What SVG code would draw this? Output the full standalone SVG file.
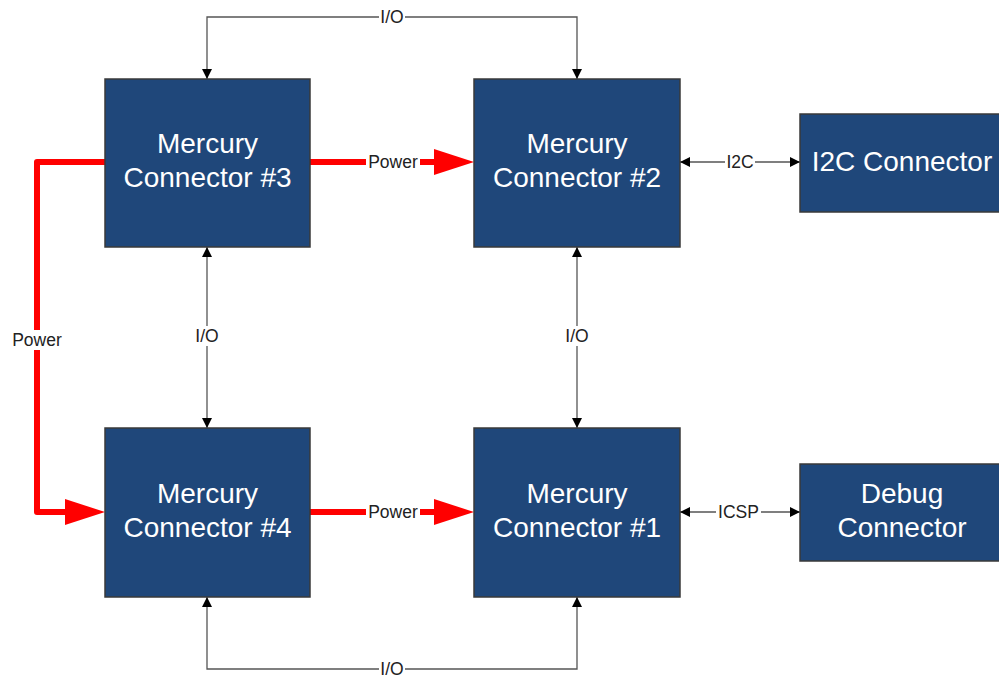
<svg xmlns="http://www.w3.org/2000/svg" width="999" height="678" viewBox="0 0 999 678">
<defs>
<style>
.box{fill:#1F477A;stroke:#3a3a3a;stroke-width:1.5}
.nt{fill:#ffffff;font-family:"Liberation Sans",Arial,sans-serif;font-size:28px;text-anchor:middle}
.io{fill:none;stroke:#555;stroke-width:1.3;marker-start:url(#ah);marker-end:url(#ah)}
.pw{fill:none;stroke:#ff0000;stroke-width:6;stroke-linejoin:round;stroke-linecap:round;marker-end:url(#rh)}
.lb{fill:#222;font-family:"Liberation Sans",Arial,sans-serif;font-size:17.5px;text-anchor:middle}
.bg{fill:#ffffff}
</style>
<marker id="ah" viewBox="0 0 10 10" refX="10" refY="5" markerWidth="10" markerHeight="10" markerUnits="userSpaceOnUse" orient="auto-start-reverse"><path d="M0,0 L10,5 L0,10 z" fill="#000"/></marker>
<marker id="rh" viewBox="0 0 40 26" refX="6" refY="13" markerWidth="40" markerHeight="26" markerUnits="userSpaceOnUse" orient="auto"><path d="M0,0 L40,13 L0,26 z" fill="#ff0000"/></marker>
</defs>
<rect width="999" height="678" fill="#ffffff"/>
<g id="connectors">
<path class="io" d="M207,79 V17 H577 V79"/>
<path class="io" d="M207,597 V669 H577 V597"/>
<path class="io" d="M207,247 V428"/>
<path class="io" d="M577,247 V428"/>
<path class="io" d="M680,162 H800"/>
<path class="io" d="M680,512 H800"/>
<path class="pw" d="M310,162 H440"/>
<path class="pw" d="M310,512 H440"/>
<path class="pw" d="M105,162 H37 V512 H71"/>
<rect class="bg" x="379" y="7" width="26" height="20"/><text class="lb" x="392" y="23">I/O</text>
<rect class="bg" x="379" y="659" width="26" height="20"/><text class="lb" x="392" y="675">I/O</text>
<rect class="bg" x="194" y="326" width="26" height="20"/><text class="lb" x="207" y="342">I/O</text>
<rect class="bg" x="564" y="326" width="26" height="20"/><text class="lb" x="577" y="342">I/O</text>
<rect class="bg" x="725" y="152" width="30" height="20"/><text class="lb" x="740" y="168">I2C</text>
<rect class="bg" x="716" y="502" width="45" height="20"/><text class="lb" x="738.5" y="518">ICSP</text>
<rect class="bg" x="366" y="152" width="54" height="20"/><text class="lb" x="393" y="168">Power</text>
<rect class="bg" x="366" y="502" width="54" height="20"/><text class="lb" x="393" y="518">Power</text>
<rect class="bg" x="9" y="330" width="56" height="20"/><text class="lb" x="37" y="346">Power</text>
</g>
<g id="mc3"><rect class="box" x="105" y="79" width="205" height="168"/><text class="nt" x="207.5" y="153">Mercury</text><text class="nt" x="207.5" y="187">Connector #3</text></g>
<g id="mc2"><rect class="box" x="474" y="79" width="206" height="168"/><text class="nt" x="577" y="153">Mercury</text><text class="nt" x="577" y="187">Connector #2</text></g>
<g id="mc4"><rect class="box" x="105" y="428" width="205" height="169"/><text class="nt" x="207.5" y="503">Mercury</text><text class="nt" x="207.5" y="537">Connector #4</text></g>
<g id="mc1"><rect class="box" x="474" y="428" width="206" height="169"/><text class="nt" x="577" y="503">Mercury</text><text class="nt" x="577" y="537">Connector #1</text></g>
<g id="i2c"><rect class="box" x="800" y="114" width="204" height="98"/><text class="nt" x="902" y="171">I2C Connector</text></g>
<g id="debug"><rect class="box" x="800" y="464" width="204" height="97"/><text class="nt" x="902" y="503">Debug</text><text class="nt" x="902" y="537">Connector</text></g>
</svg>
